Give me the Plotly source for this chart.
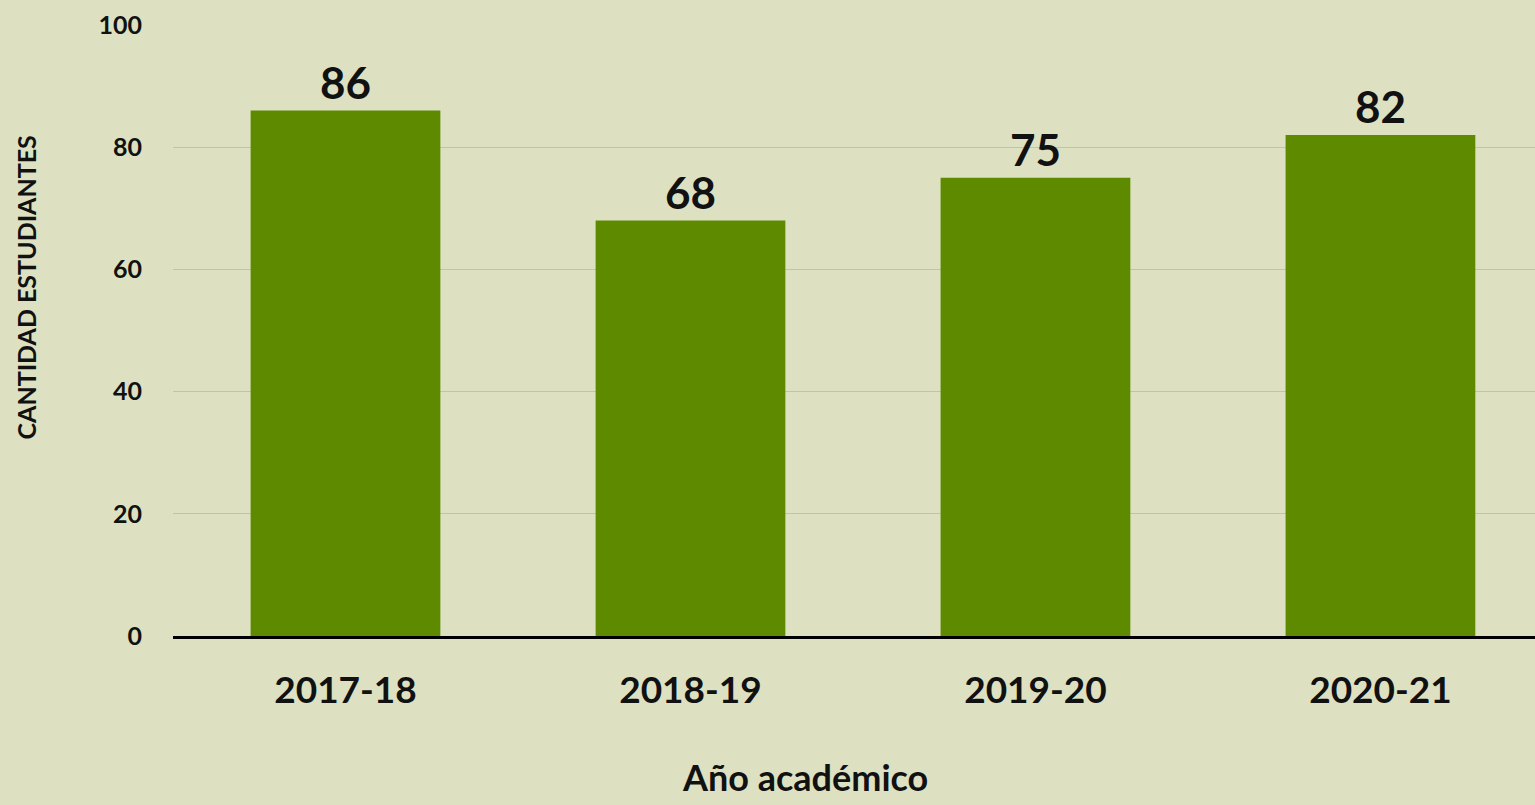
import plotly.graph_objects as go

categories = ["2017-18", "2018-19", "2019-20", "2020-21"]
values = [86, 68, 75, 82]
y_ticks = [0, 20, 40, 60, 80, 100]

BG = "#dde1c2"
BAR = "#5e8a00"
FONT = "Lato"

fig = go.Figure(
    go.Bar(
        x=categories,
        y=values,
        width=0.55,
        marker=dict(color=BAR, line=dict(width=0)),
        text=[str(v) for v in values],
        textposition="outside",
        textfont=dict(family=FONT, size=44, color="#111111", weight="bold"),
        cliponaxis=False,
    )
)

fig.update_layout(
    width=1535,
    height=805,
    margin=dict(l=173, r=0, t=25, b=169),
    paper_bgcolor=BG,
    plot_bgcolor=BG,
    showlegend=False,
    bargap=0.45,
    font=dict(family=FONT, color="#111111"),
)

fig.update_xaxes(
    range=[-0.5, 3.448],
    showgrid=False,
    showline=True,
    linecolor="#000000",
    linewidth=3,
    ticks="",
    tickfont=dict(family=FONT, size=37, color="#111111", weight="bold"),
    ticklabelstandoff=20,
)

fig.update_yaxes(
    range=[0, 100],
    tickvals=y_ticks,
    showgrid=True,
    gridcolor="#c2c4a9",
    gridwidth=1,
    zeroline=False,
    showline=False,
    ticks="",
    tickfont=dict(family=FONT, size=25, color="#111111", weight="bold"),
    ticklabelstandoff=30,
)

fig.add_annotation(
    text="Año académico",
    xref="paper", yref="paper",
    x=(804.5 - 173) / 1362, y=-(777 - 636) / 611,
    xanchor="center", yanchor="middle",
    showarrow=False,
    font=dict(family=FONT, size=36, color="#111111", weight="bold"),
)

fig.add_annotation(
    text="CANTIDAD ESTUDIANTES",
    xref="paper", yref="paper",
    x=(25 - 173) / 1362, y=(636 - 287.5) / 611,
    xanchor="center", yanchor="middle",
    textangle=-90,
    showarrow=False,
    font=dict(family=FONT, size=25, color="#111111", weight="bold"),
)

fig.write_html("out.html")
